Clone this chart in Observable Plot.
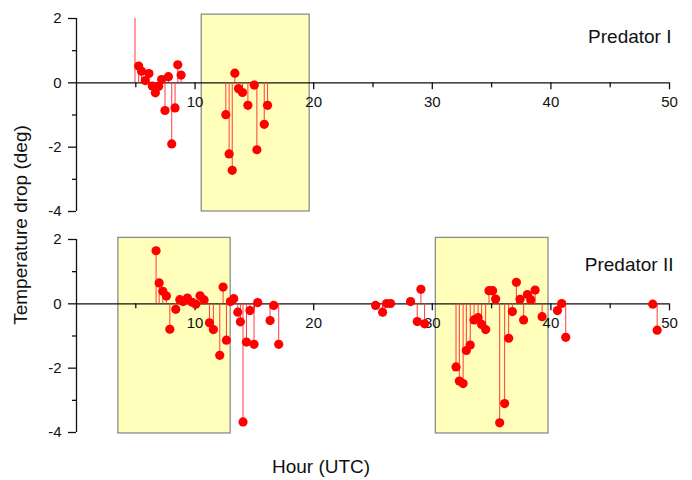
<!DOCTYPE html>
<html><head><meta charset="utf-8">
<script src="https://cdn.jsdelivr.net/npm/d3@7"></script>
<script src="https://cdn.jsdelivr.net/npm/@observablehq/plot@0.6"></script>
<style>
body{margin:0;background:#fff;font-family:"Liberation Sans",Arial,sans-serif;}
#wrap{position:relative;width:692px;height:480px;overflow:hidden;}
#top,#bottom{position:absolute;left:0;}
#top{top:0}
#bottom{top:222px}
#ylab{position:absolute;left:21px;top:225px;transform:translate(-50%,-50%) rotate(-90deg);font-size:19px;white-space:nowrap;color:#111;}
#xlab{position:absolute;left:321px;top:467px;transform:translate(-50%,-50%);font-size:19px;white-space:nowrap;color:#111;}
</style></head>
<body>
<div id="wrap"><div id="top"></div><div id="bottom"></div>
<div id="ylab">Temperature drop (deg)</div><div id="xlab">Hour (UTC)</div></div>
<script>
// Predator I
const p1Hours  = [4.93, 5.24, 5.49, 5.8, 6.11, 6.39, 6.65, 6.93, 7.18, 7.46, 7.75, 8.03, 8.31, 8.54, 8.82,
                  12.59, 12.87, 13.13, 13.35, 13.66, 14.0, 14.45, 14.99, 15.21, 15.83, 16.11];
const p1Values = [2.5, 0.52, 0.36, 0.07, 0.29, -0.1, -0.31, -0.11, 0.1, -0.86, 0.19, -1.9, -0.78, 0.56, 0.24,
                  -0.99, -2.21, -2.72, 0.3, -0.18, -0.3, -0.7, -0.07, -2.08, -1.29, -0.7];
// Predator II
const p2Hours  = [6.71, 6.97, 7.28, 7.58, 7.87, 8.37, 8.71, 8.99, 9.35, 9.75, 10.06, 10.42, 10.76, 11.21, 11.54,
                  12.08, 12.36, 12.64, 12.98, 13.26, 13.6, 13.82, 14.04, 14.33, 14.63, 14.97, 15.28, 16.32, 16.63, 17.05,
                  25.22, 25.81, 26.15, 26.48, 28.17, 28.73, 29.04, 29.35,
                  32.0, 32.28, 32.6, 32.87, 33.2, 33.52, 33.86, 34.16, 34.5, 34.78, 35.09, 35.34, 35.68, 36.1,
                  36.44, 36.75, 37.09, 37.4, 37.7, 38.02, 38.3, 38.67, 39.26,
                  40.55, 40.91, 41.25, 48.59, 48.96];
const p2Values = [1.65, 0.65, 0.39, 0.24, -0.79, -0.17, 0.13, 0.07, 0.18, 0.05, -0.01, 0.25, 0.12, -0.59, -0.8,
                  -1.6, 0.52, -1.13, 0.07, 0.16, -0.26, -0.56, -3.67, -1.19, -0.21, -1.26, 0.04, -0.52, -0.05, -1.26,
                  -0.05, -0.26, 0.01, 0.01, 0.07, -0.55, 0.45, -0.62,
                  -1.96, -2.4, -2.48, -1.45, -1.28, -0.5, -0.43, -0.64, -0.8, 0.41, 0.41, 0.15, -3.7, -3.1,
                  -1.07, -0.24, 0.67, 0.14, -0.5, 0.29, 0.13, 0.43, -0.4,
                  -0.21, 0.01, -1.04, -0.01, -0.82];
// shaded windows
const p1ShadeStart = [10.56], p1ShadeEnd = [19.66], p1ShadeTop = [2.12], p1ShadeBottom = [-4];
const p2ShadeStart = [3.53, 30.3], p2ShadeEnd = [13.0, 39.8], p2ShadeTop = [2.05, 2.05], p2ShadeBottom = [-4.03, -4.03];
// ticks
const majorX = [10, 20, 30, 40, 50];
const minorX = [5, 15, 25, 35, 45];
const majorY = [2, 0, -2, -4];
const minorY = [1, -1, -3];
const labels = ["Predator I", "Predator II"];

function panel({hours, values, starts, ends, tops, bottoms, label, height, marginTop, marginBottom, labelDx, labelDy}) {
  const yDomain = [-4, 2];
  const innerH = height - marginTop - marginBottom;
  const axisDy = -innerH * (0 - yDomain[0]) / (yDomain[1] - yDomain[0]);
  const data = hours.map((h, i) => ({hour: h, value: values[i]}));
  const shades = starts.map((s, i) => ({start: s, end: ends[i], top: tops[i], bottom: bottoms[i]}));
  return Plot.plot({
    width: 692, height, marginTop, marginBottom, marginLeft: 76, marginRight: 23,
    x: {domain: [0, 50]},
    y: {domain: yDomain},
    style: {fontSize: "15px", fontFamily: '"Liberation Sans", Arial, sans-serif', background: "white", color: "#111", overflow: "visible"},
    marks: [
      Plot.rect(shades, {x1: "start", x2: "end", y1: "bottom", y2: "top", fill: "#ffffbb", stroke: "#8c8c8c", strokeWidth: 1.3}),
      Plot.ruleY([0], {stroke: "#111", strokeWidth: 1.3}),
      Plot.ruleX([0], {stroke: "#111", strokeWidth: 1.3}),
      Plot.axisY({ticks: majorY, tickSize: 8, tickPadding: 7, tickFormat: d => String(d), label: null, strokeWidth: 1.3}),
      Plot.axisY({ticks: minorY, tickSize: 4, tickFormat: () => "", label: null, strokeWidth: 1.3}),
      Plot.axisX({ticks: majorX, tickSize: 7, tickPadding: 7, tickFormat: d => String(d), dy: axisDy, label: null, strokeWidth: 1.3}),
      Plot.axisX({ticks: minorX, tickSize: 5, tickFormat: () => "", dy: axisDy, label: null, strokeWidth: 1.3}),
      Plot.ruleX(data, {x: "hour", y1: 0, y2: "value", stroke: "#ff3b3b", strokeWidth: 1, clip: true}),
      Plot.dot(data, {x: "hour", y: "value", r: 4.6, fill: "#ff0000", stroke: "none", clip: true}),
      Plot.text([label], {frameAnchor: "top-right", textAnchor: "end", lineAnchor: "middle", dx: labelDx, dy: labelDy, fontSize: 19, fill: "#111"})
    ]
  });
}

document.getElementById("top").append(panel({
  hours: p1Hours, values: p1Values, starts: p1ShadeStart, ends: p1ShadeEnd, tops: p1ShadeTop, bottoms: p1ShadeBottom,
  label: labels[0], height: 222, marginTop: 18, marginBottom: 11, labelDx: 2, labelDy: 18
}));
document.getElementById("bottom").append(panel({
  hours: p2Hours, values: p2Values, starts: p2ShadeStart, ends: p2ShadeEnd, tops: p2ShadeTop, bottoms: p2ShadeBottom,
  label: labels[1], height: 258, marginTop: 17, marginBottom: 48, labelDx: 4, labelDy: 25
}));
</script>
</body></html>
